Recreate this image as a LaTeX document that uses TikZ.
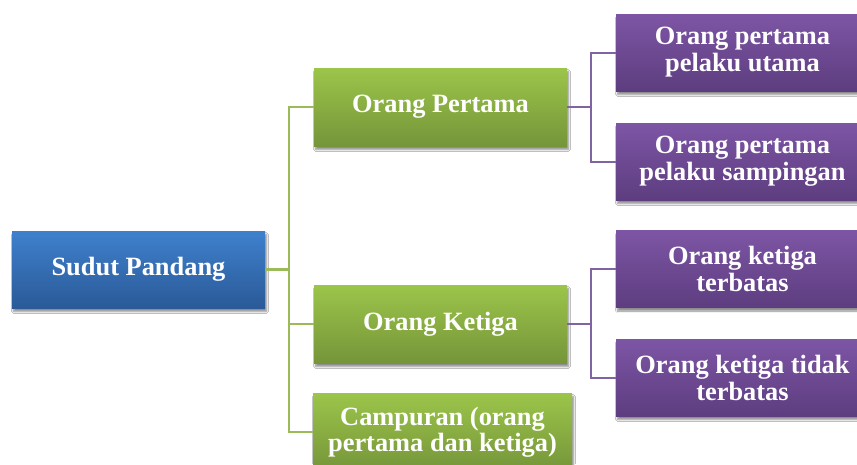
\documentclass[tikz,border=0pt]{standalone}
\usepackage{fontspec}
\setmainfont{Liberation Serif}
\usetikzlibrary{shadows.blur}
\definecolor{bluetop}{HTML}{3F80CD}
\definecolor{bluebot}{HTML}{2A5A98}
\definecolor{greentop}{HTML}{9CC54A}
\definecolor{greenbot}{HTML}{75953A}
\definecolor{purptop}{HTML}{7D55A5}
\definecolor{purpbot}{HTML}{5D3D7F}
\definecolor{greenline}{HTML}{9BBB59}
\definecolor{purpline}{HTML}{8064A2}
\tikzset{
  box/.style={rectangle, inner sep=0pt, minimum width=253pt, minimum height=77pt,
    align=center, text=white, font=\fontsize{26.4}{27}\selectfont\bfseries,
    blur shadow={shadow xshift=1.5pt, shadow yshift=-3.5pt, shadow blur steps=6, shadow opacity=45}},
  bluebox/.style={box, top color=bluetop, bottom color=bluebot},
  greenbox/.style={box, top color=greentop, bottom color=greenbot},
  purpbox/.style={box, top color=purptop, bottom color=purpbot},
  gline/.style={draw=greenline, line width=2pt},
  pline/.style={draw=purpline, line width=2pt},
}
\begin{document}
\begin{tikzpicture}[x=1pt,y=-1pt]
\useasboundingbox (0,0) rectangle (857,464);
\clip (0,0) rectangle (857,464);
\fill[white] (0,0) rectangle (857,464);
\node[bluebox] (root) at (138.5,269.5) {Sudut Pandang};
\node[greenbox, minimum height=78pt] (op) at (440.5,107) {Orang Pertama};
\node[greenbox, minimum height=78pt] (ok) at (440.5,324) {Orang Ketiga};
\node[greenbox, minimum width=259pt, minimum height=78pt] (camp) at (442.5,432) {Campuran (orang\\[-1pt]pertama dan ketiga)};
\node[purpbox] (p1) at (742.5,52.5) {Orang pertama\\pelaku utama};
\node[purpbox] (p2) at (742.5,161.5) {Orang pertama\\pelaku sampingan};
\node[purpbox] (p3) at (742.5,269) {Orang ketiga\\terbatas};
\node[purpbox] (p4) at (742.5,377.5) {Orang ketiga tidak\\terbatas};
\coordinate (gj) at (289,269.5);
\coordinate (pj1) at (591,107);
\coordinate (pj2) at (591,324);
\draw[gline, line width=3pt] (root.east) -- (gj);
\draw[gline] (gj) |- (op.west);
\draw[gline] (gj) |- (ok.west);
\draw[gline] (gj) |- (camp.west);
\draw[pline] (op.east) -- (pj1);
\draw[pline] (pj1) |- (p1.west);
\draw[pline] (pj1) |- (p2.west);
\draw[pline] (ok.east) -- (pj2);
\draw[pline] (pj2) |- (p3.west);
\draw[pline] (pj2) |- (p4.west);
\end{tikzpicture}
\end{document}
